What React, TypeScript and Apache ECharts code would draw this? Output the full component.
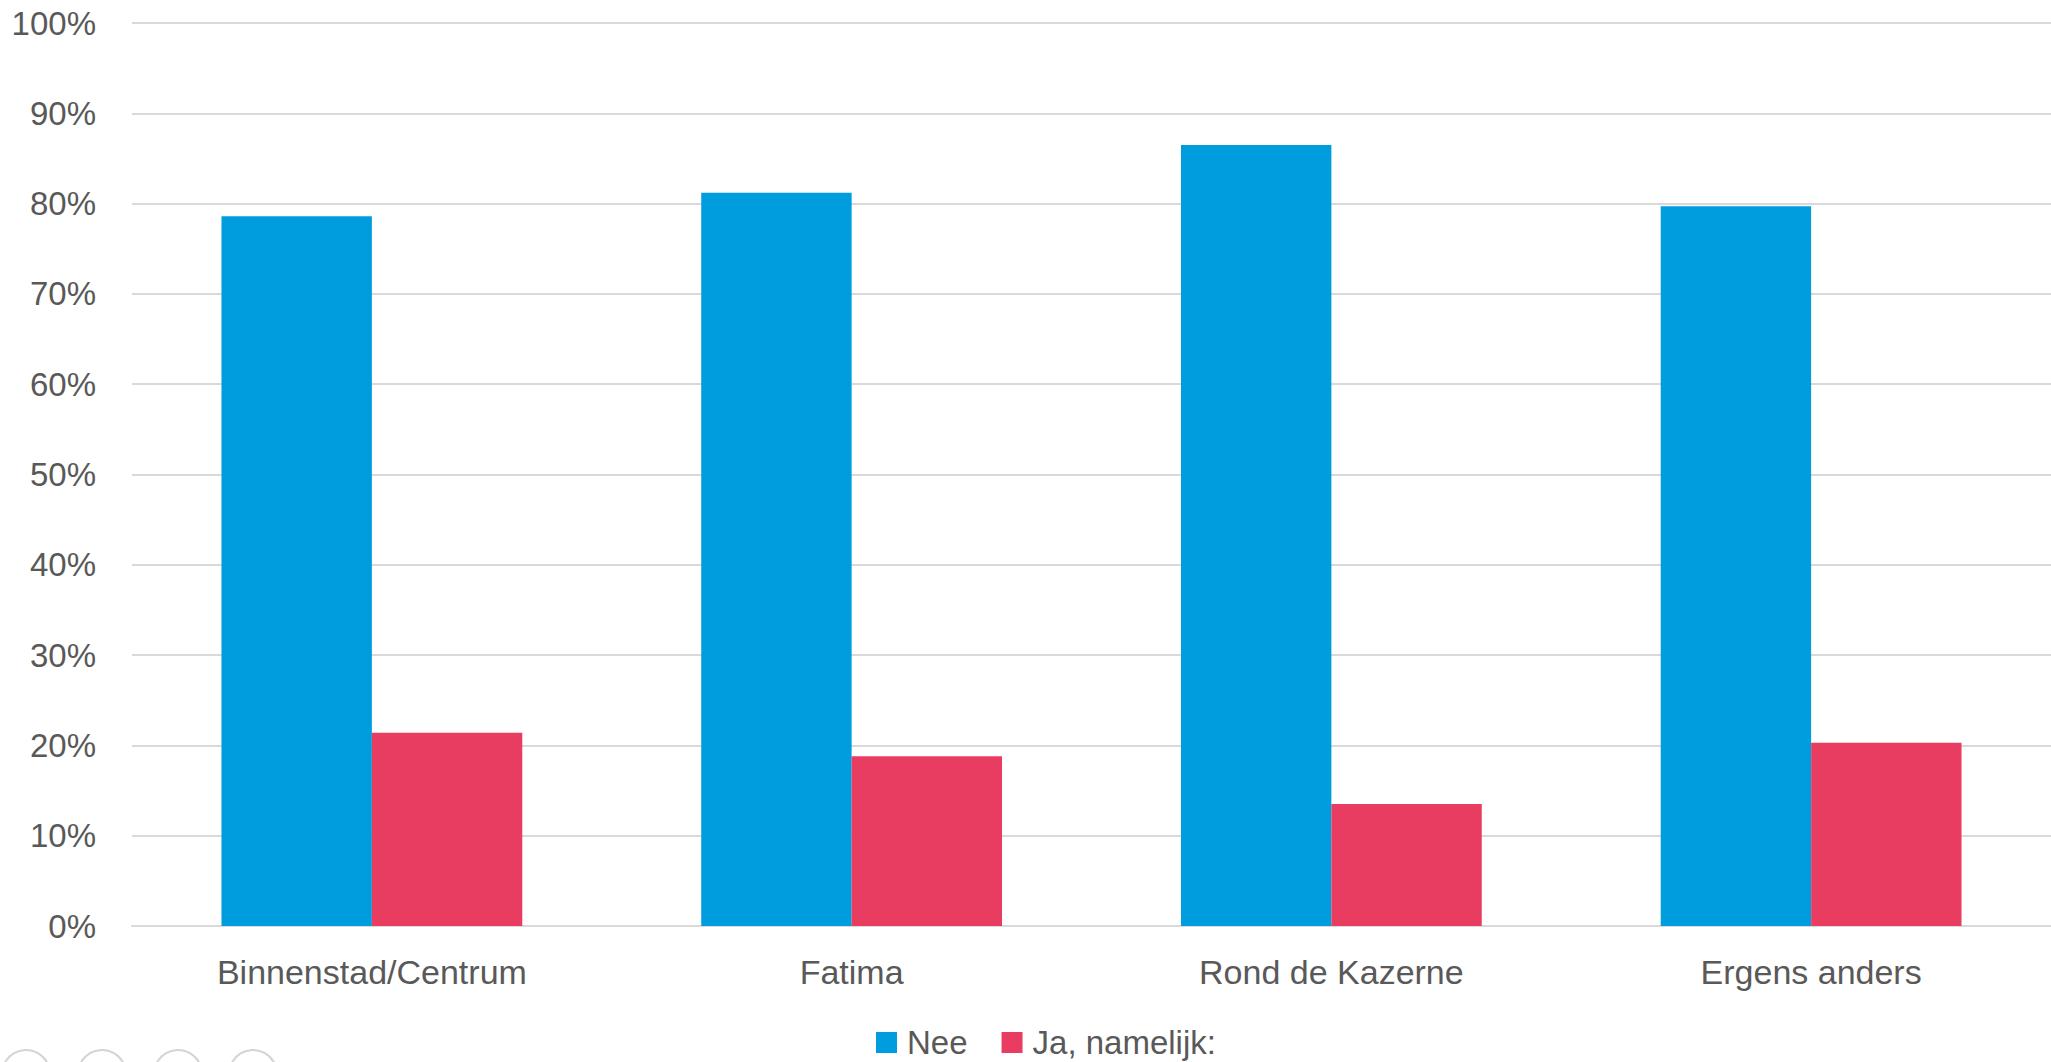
import React, { useEffect, useRef } from "react";
import * as echarts from "echarts";

const categories = ["Binnenstad/Centrum", "Fatima", "Rond de Kazerne", "Ergens anders"];
const seriesNames = ["Nee", "Ja, namelijk:"];
const neeValues = [78.6, 81.2, 86.5, 79.7];
const jaValues = [21.4, 18.8, 13.5, 20.3];
const colors = ["#009DDE", "#E83D61"];

const FONT = "'Liberation Sans', Arial, sans-serif";
const TEXT = "#595959";

export default function App() {
  const ref = useRef<HTMLDivElement>(null);
  useEffect(() => {
    document.body.style.margin = "0";
    const chart = echarts.init(ref.current!, null, { renderer: "svg" });
    chart.setOption({
      animation: false,
      backgroundColor: "#ffffff",
      textStyle: { fontFamily: FONT },
      grid: { left: 132, right: 0, top: 23, bottom: 136, containLabel: false },
      legend: {
        data: seriesNames,
        left: 876,
        top: 1026,
        padding: 0,
        itemWidth: 21,
        itemHeight: 21,
        itemGap: 34,
        icon: "rect",
        textStyle: {
          fontFamily: FONT,
          fontSize: 33,
          lineHeight: 33,
          color: TEXT,
          padding: [0, 0, 0, 5],
        },
      },
      xAxis: {
        type: "category",
        data: categories,
        axisLine: { show: true, lineStyle: { color: "#D9D9D9", width: 2 } },
        axisTick: { show: false },
        axisLabel: { fontFamily: FONT, fontSize: 34, color: TEXT, margin: 29 },
      },
      yAxis: {
        type: "value",
        min: 0,
        max: 100,
        interval: 10,
        axisLine: { show: false },
        axisTick: { show: false },
        splitLine: { lineStyle: { color: "#D9D9D9", width: 2 } },
        axisLabel: {
          fontFamily: FONT,
          fontSize: 33,
          color: TEXT,
          margin: 36,
          formatter: (v: number) => `${v}%`,
        },
      },
      series: [
        {
          name: seriesNames[0],
          type: "bar",
          data: neeValues,
          barGap: "0%",
          barCategoryGap: "37.3%",
          itemStyle: { color: colors[0] },
        },
        {
          name: seriesNames[1],
          type: "bar",
          data: jaValues,
          barGap: "0%",
          barCategoryGap: "37.3%",
          itemStyle: { color: colors[1] },
        },
      ],
      graphic: [26, 102, 178, 253].map((cx) => ({
        type: "circle",
        shape: { cx, cy: 1074, r: 24 },
        style: { fill: "none", stroke: "#D4D4D4", lineWidth: 2 },
        silent: true,
      })),
    });
    return () => chart.dispose();
  }, []);
  return (
    <div
      ref={ref}
      style={{ position: "absolute", left: 0, top: 0, width: 2051, height: 1062 }}
    />
  );
}
